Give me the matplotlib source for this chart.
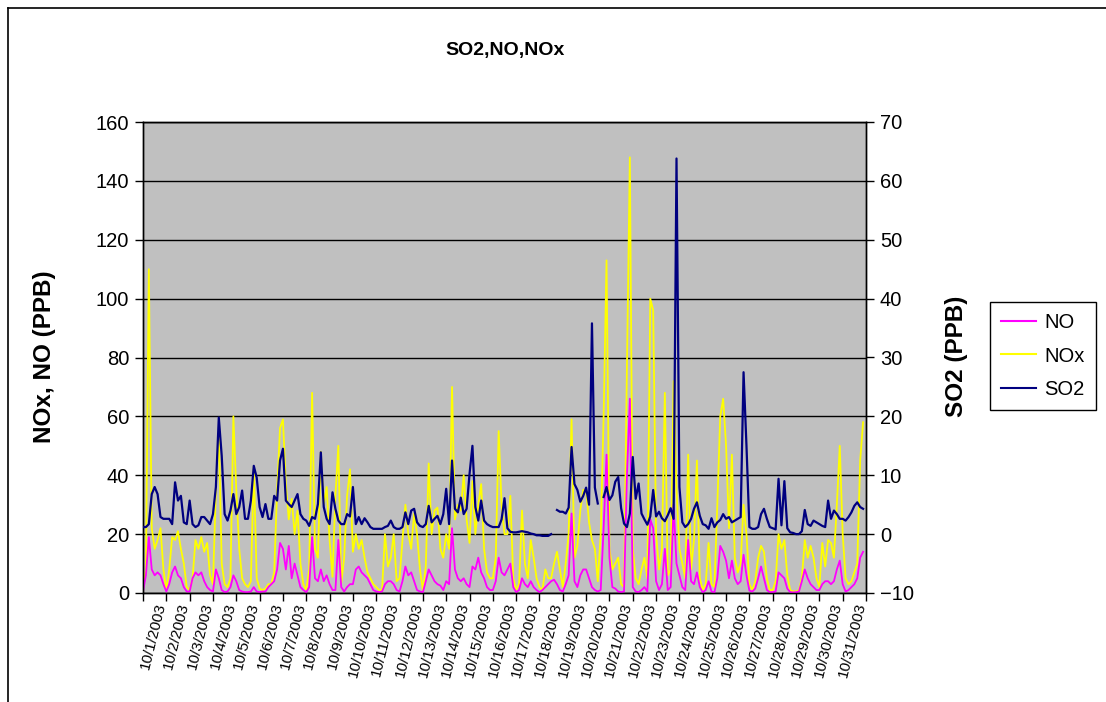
import numpy as np
import matplotlib
matplotlib.use("Agg")
import matplotlib.pyplot as plt
from matplotlib.lines import Line2D

plt.rcParams['font.family'] = ['Liberation Sans', 'DejaVu Sans']

# ---------------- data (3-hourly readings, 8 per day, Oct 1-31 2003) ----------------
dates = ["10/1/2003", "10/2/2003", "10/3/2003", "10/4/2003", "10/5/2003", "10/6/2003",
         "10/7/2003", "10/8/2003", "10/9/2003", "10/10/2003", "10/11/2003", "10/12/2003",
         "10/13/2003", "10/14/2003", "10/15/2003", "10/16/2003", "10/17/2003", "10/18/2003",
         "10/19/2003", "10/20/2003", "10/21/2003", "10/22/2003", "10/23/2003", "10/24/2003",
         "10/25/2003", "10/26/2003", "10/27/2003", "10/28/2003", "10/29/2003", "10/30/2003",
         "10/31/2003"]

nox = [
    2, 8, 110, 22, 15, 18, 22, 8,
    1, 8, 19, 18, 21, 15, 10, 2,
    1, 5, 18, 15, 19, 14, 17, 6,
    3, 35, 55, 10, 3, 2, 5, 60,
    35, 15, 5, 3, 2, 4, 43, 5,
    1.5, 1, 1.5, 3, 3, 7, 35, 56,
    59, 37, 25, 32, 20, 28, 10, 3,
    1, 8, 68, 15, 12, 48, 30, 36,
    18, 5.5, 33, 50, 3.3, 12, 33, 42,
    14, 20, 15, 18, 12, 7, 5, 3,
    2, 1, 1, 20, 9, 12, 20, 4,
    5, 18, 30, 20, 15, 27, 20, 8,
    1, 9, 44, 20, 28, 29, 15, 12,
    20, 15, 70, 25, 30, 28, 40, 25,
    17, 38, 20, 30, 37, 15, 7, 5,
    5, 12, 55, 30, 20, 20, 33, 5,
    1, 3, 28, 10, 5, 18, 12, 5,
    2, 1, 8, 5, 5, 10, 14, 8,
    2, 10, 20, 59, 12, 16, 28, 35,
    35, 24, 18, 15, 4, 20, 60, 113,
    15, 8, 10, 12, 3, 2, 77, 148,
    15, 5, 3, 8, 12, 5, 100, 96,
    20, 8, 15, 68, 6, 8, 72, 35,
    15, 10, 5, 47, 8, 18, 45, 5,
    1, 3, 17, 3, 2, 30, 60, 66,
    50, 22, 47, 12, 7, 10, 30, 20,
    3, 1, 4, 12, 16, 14, 5, 1,
    1, 4, 20, 15, 18, 6, 1, 0.5,
    0.5, 1, 5, 18, 12, 16, 12, 5,
    2, 17, 9, 18, 17, 12, 30, 50,
    20, 5, 3, 4, 7, 10, 45, 58,
]

no = [
    0.5, 6, 19, 8, 6, 7, 6, 3,
    0.5, 3, 7, 9, 6, 5, 2, 0.5,
    0.5, 5, 7, 6, 7, 4, 2, 1,
    0.5, 8, 5, 1, 0.3, 0.5, 2, 6,
    4, 1, 0.5, 0.3, 0.3, 0.5, 2, 0.5,
    0.3, 0.5, 0.5, 2, 3, 4, 8, 17,
    15, 8, 16, 5, 10, 6, 2, 1,
    0.3, 2, 19, 5, 4, 8, 4, 6,
    3, 1, 1, 18, 2, 0.5, 2, 3,
    3, 8, 9, 7, 6, 5, 3, 1,
    0.5, 0.3, 0.5, 3, 4, 4, 3, 1,
    0.5, 4, 9, 6, 7, 4, 1, 0.5,
    0.2, 4, 8, 6, 4, 3, 2.5, 1,
    4, 3, 22, 8, 5, 4, 5, 3,
    2, 9, 8, 12, 7, 5, 2, 1,
    1, 4, 12, 7, 6, 8, 10, 2,
    0.3, 1, 5, 3, 2, 4, 2, 1,
    0.3, 1, 2, 3, 4, 4.5, 3, 1,
    0.5, 3, 6, 27, 4, 2, 6, 8,
    8, 5, 2, 1, 0.5, 1, 22, 47,
    12, 2, 1.5, 0.5, 0.3, 0.5, 40, 66,
    2, 0.5, 0.3, 1, 2, 0.5, 25, 22,
    4, 1, 3, 15, 1, 2, 30, 10,
    6, 2, 1, 18, 4, 3, 7, 2,
    0.2, 1, 4, 0.5, 0.2, 5, 16, 14,
    11, 5, 11, 5, 3, 4, 13, 6,
    0.8, 0.5, 1.5, 5, 9, 5, 1, 0.3,
    0.3, 0.5, 7, 6, 5, 1.5, 0.3, 0.2,
    0.3, 0.5, 4, 8, 5, 3, 2, 1,
    1, 3, 4, 4, 3, 4, 8, 11,
    3, 0.5, 1, 2, 3, 5, 12, 14,
]

nan = float('nan')
so2 = [
    1.2, 1.2, 1.7, 6.8, 8.0, 6.8, 2.9, 2.6,
    2.6, 2.6, 1.7, 8.8, 5.7, 6.5, 2.0, 1.7,
    5.7, 1.7, 1.2, 1.5, 2.9, 2.9, 2.3, 1.7,
    3.4, 8.0, 19.8, 13.3, 3.4, 2.3, 4.0, 6.8,
    3.4, 4.6, 7.4, 2.6, 2.6, 5.7, 11.6, 9.6,
    4.6, 2.9, 5.1, 2.6, 2.6, 6.5, 5.7, 12.5,
    14.5, 5.7, 5.1, 4.6, 5.7, 6.8, 3.4, 2.6,
    2.3, 1.4, 2.9, 2.6, 5.1, 13.9, 4.6, 2.6,
    1.7, 7.1, 4.3, 2.3, 1.7, 1.7, 3.4, 3.0,
    8.0, 1.7, 2.9, 1.7, 2.7, 2.0, 1.2, 0.9,
    0.9, 0.9, 0.9, 1.2, 1.4, 2.3, 1.2, 0.9,
    0.9, 1.2, 3.7, 1.7, 4.0, 4.3, 2.0, 1.4,
    1.2, 1.7, 4.8, 2.0, 2.6, 3.1, 1.7, 3.4,
    7.7, 1.7, 12.5, 4.3, 3.7, 6.2, 3.4, 4.3,
    10.2, 15.0, 4.6, 2.3, 5.7, 2.3, 1.7, 1.4,
    1.2, 1.2, 1.2, 2.5, 6.1, 1.0, 0.4, 0.3,
    0.3, 0.4, 0.5, 0.4, 0.3, 0.1, 0.0, -0.2,
    -0.2, -0.3, -0.3, -0.3, 0.0, nan, 4.1, 3.8,
    3.8, 3.5, 4.5, 14.8, 8.5, 7.5, 5.5, 6.5,
    7.9, 5.0, 35.8, 7.9, 5.2, nan, 6.3, 8.0,
    5.8, 6.6, 8.9, 9.7, 4.4, 1.8, 1.2, 3.5,
    13.1, 6.0, 8.6, 3.5, 2.5, 1.6, 3.0, 7.5,
    3.0, 3.8, 2.7, 2.2, 3.2, 4.4, 2.6, 63.8,
    8.0, 2.0, 1.2, 1.7, 2.6, 4.3, 5.4, 3.1,
    1.7, 1.5, 0.9, 2.7, 1.2, 2.0, 2.4, 3.4,
    2.6, 2.9, 2.0, 2.3, 2.6, 2.9, 27.5, 15.0,
    1.2, 0.9, 0.9, 1.2, 3.4, 4.3, 2.6, 1.2,
    1.0, 0.8, 9.4, 1.5, 9.0, 1.0, 0.3, 0.2,
    0.0, 0.0, 0.5, 4.1, 1.7, 1.4, 2.3, 2.0,
    1.7, 1.4, 1.2, 5.7, 2.6, 4.0, 3.4, 2.6,
    2.6, 2.3, 2.9, 3.7, 4.8, 5.4, 4.6, 4.3,
]

readings_per_day = 8
x = np.arange(len(nox)) / readings_per_day

# ---------------- figure ----------------
W, H = 1106, 702
fig = plt.figure(figsize=(W / 100, H / 100), dpi=100)
fig.patch.set_facecolor('white')

# chart-area border (top and left visible)
fig.add_artist(Line2D([8 / W, 8 / W], [0, 1 - 8 / H], color='black', lw=1.2))
fig.add_artist(Line2D([8 / W, 1.0], [1 - 8 / H, 1 - 8 / H], color='black', lw=1.2))

ax = fig.add_axes([143 / W, 1 - 593 / H, 723 / W, 471 / H])
ax.set_facecolor('#C0C0C0')
ax.set_axisbelow(True)
ax.plot(x, nox, color='#FFFF00', lw=1.3, zorder=2)
ax.plot(x, no, color='#FF00FF', lw=1.3, zorder=3)
ax.set_xlim(0, 31)
ax.set_ylim(0, 160)
ax.set_yticks(range(0, 161, 20))
ax.grid(axis='y', color='black', lw=1)
ax.tick_params(axis='y', direction='out', length=6, width=1, labelsize=14.5, pad=4)

ax.set_xticks(np.arange(0, 32))
ax.set_xticklabels([])
ax.set_xticks(np.arange(31) + 0.5, minor=True)
ax.set_xticklabels(dates, minor=True, rotation=76, ha='right', va='top',
                   rotation_mode='anchor', fontsize=11)
ax.tick_params(axis='x', which='major', direction='out', length=6, width=1)
ax.tick_params(axis='x', which='minor', length=0, pad=6)

ax2 = ax.twinx()
ax2.plot(x, so2, color='#000080', lw=1.6, zorder=4)
ax2.set_ylim(-10, 70)
ax2.set_yticks(range(-10, 71, 10))
ax2.tick_params(axis='y', direction='out', length=6, width=1, labelsize=14.5, pad=4)

for a in (ax, ax2):
    for s in a.spines.values():
        s.set_color('black')
        s.set_linewidth(1)

fig.text(505 / W, 1 - 50 / H, 'SO2,NO,NOx', ha='center', va='center',
         fontsize=14, fontweight='bold')
fig.text(45 / W, 1 - 357 / H, 'NOx, NO (PPB)', ha='center', va='center',
         rotation=90, fontsize=17.5, fontweight='bold')
fig.text(956 / W, 1 - 356 / H, 'SO2 (PPB)', ha='center', va='center',
         rotation=90, fontsize=17.5, fontweight='bold')

handles = [Line2D([], [], color='#FF00FF', lw=1.5),
           Line2D([], [], color='#FFFF00', lw=1.5),
           Line2D([], [], color='#000080', lw=1.5)]
leg = fig.legend(handles, ['NO', 'NOx', 'SO2'], loc='center',
                 bbox_to_anchor=(1043 / W, 1 - 356 / H), fontsize=14.5,
                 frameon=True, fancybox=False, edgecolor='black', framealpha=1,
                 handlelength=1.75, handletextpad=0.4, labelspacing=0.7,
                 borderpad=0.55, borderaxespad=0)
leg.get_frame().set_linewidth(1)

fig.savefig('out.png', dpi=100, facecolor='white')
